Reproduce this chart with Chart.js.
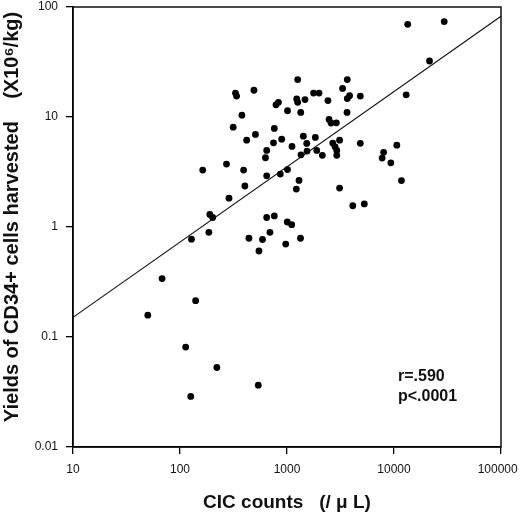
<!DOCTYPE html>
<html>
<head>
<meta charset="utf-8">
<title>CIC counts vs CD34+ yields</title>
<script src="https://cdn.jsdelivr.net/npm/chart.js@4.4.1/dist/chart.umd.min.js"></script>
<style>
  html, body { margin: 0; padding: 0; background: #fff; }
  #wrap { position: relative; width: 520px; height: 515px; }
</style>
</head>
<body>
<div id="wrap"><canvas id="cic-chart"></canvas></div>
<script>
const FONT = '"Liberation Sans", Arial, Helvetica, sans-serif';

// CIC counts (/uL), one per patient
const cicCounts = [
  50, 68, 113, 126, 140, 221, 539, 128, 163, 186,
  190, 202, 272, 287, 314, 330, 338, 379, 393, 404,
  420, 441, 491, 507, 547, 590, 629, 646, 646, 646,
  693, 748, 761, 761, 789, 832, 866, 892, 972, 1006,
  1107, 1011, 1011, 1114, 1222, 1259, 1232, 1259, 1295, 1337,
  1344, 1352, 1421, 1473, 1529, 1539, 1771, 1993, 1840, 1897,
  2140, 2414, 2472, 2581, 2893, 2677, 3100, 2814, 2918, 2918,
  3100, 3307, 3659, 3659, 3846, 3640, 4842, 4842, 4120, 5277,
  8000, 7745, 9343, 10630, 11740, 13000, 21470, 13430, 29450,
];

// CD34+ cells harvested (x10^6/kg), same order
const cd34Yields = [
  0.158, 0.34, 0.081, 0.0288, 0.214, 0.0528, 0.0365, 0.775, 3.29, 0.895,
  1.30, 1.22, 3.73, 1.83, 8.09, 16.5, 15.5, 10.4, 3.29, 2.36,
  6.16, 0.79, 17.5, 6.94, 0.605, 0.77, 4.26, 4.97, 2.92, 1.22,
  0.895, 5.82, 7.87, 1.26, 12.9, 13.6, 3.03, 6.29, 0.70, 1.11,
  1.05, 11.4, 3.33, 5.40, 2.21, 21.9, 14.6, 13.6, 2.65, 0.79,
  11.0, 4.53, 6.70, 14.4, 5.75, 4.90, 16.5, 16.5, 6.52, 4.97,
  4.48, 14.1, 9.5, 8.8, 8.85, 5.79, 6.16, 5.36, 4.97, 4.48,
  2.26, 18.2, 21.9, 14.7, 15.6, 11.0, 15.5, 5.76, 1.56, 1.62,
  4.77, 4.23, 3.83, 5.55, 2.64, 15.9, 32.3, 69.6, 73.7,
];

// regression line end points
const fitX = [10, 100000];
const fitY = [0.151, 82.4];

const xTicks = [10, 100, 1000, 10000, 100000];
// last label is nudged left in the original, trailing spaces do the same
const xTickLabels = ['10', '100', '1000', '10000', '100000  '];
const yTicks = [0.01, 0.1, 1, 10, 100];
const yTickLabels = ['0.01', '0.1', '1', '10', '100'];

const statLines = ['r=.590', 'p<.0001'];
const xTitle = 'CIC counts   (/ \u03bc L)';
const yTitle = 'Yields of CD34+ cells harvested    (X10\u2076/kg)';

const points = cicCounts.map((x, i) => ({ x, y: cd34Yields[i] }));
const fitLine = fitX.map((x, i) => ({ x, y: fitY[i] }));

// box round the plot, rotated y title and the r / p note
const extrasPlugin = {
  id: 'extras',
  afterDraw(chart) {
    const { ctx, chartArea: a } = chart;
    ctx.save();
    ctx.strokeStyle = '#000';
    ctx.lineWidth = 1.4;
    ctx.strokeRect(a.left, a.top, a.right - a.left, a.bottom - a.top);

    ctx.fillStyle = '#111';
    ctx.font = 'bold 16px ' + FONT;
    ctx.textAlign = 'left';
    ctx.textBaseline = 'middle';
    statLines.forEach((t, i) => {
      ctx.fillText(t, a.left + 325, a.top + 370 + i * 20);
    });

    ctx.translate(18, 217);
    ctx.rotate(-Math.PI / 2);
    ctx.font = 'bold 20px ' + FONT;
    ctx.textAlign = 'center';
    ctx.textBaseline = 'alphabetic';
    ctx.fillText(yTitle, 0, 0);
    ctx.restore();
  },
};

Chart.defaults.font.family = FONT;

new Chart(document.getElementById('cic-chart'), {
  type: 'scatter',
  data: {
    datasets: [
      {
        label: 'patients',
        data: points,
        backgroundColor: '#000',
        borderWidth: 0,
        pointRadius: 3.4,
      },
      {
        label: 'fit',
        data: fitLine,
        showLine: true,
        borderColor: '#111',
        borderWidth: 1.1,
        pointRadius: 0,
        fill: false,
      },
    ],
  },
  options: {
    responsive: true,
    maintainAspectRatio: false,
    animation: false,
    layout: { padding: { top: 7, right: 19, bottom: 0, left: 0 } },
    plugins: {
      legend: { display: false },
      tooltip: { enabled: false },
    },
    scales: {
      x: {
        type: 'logarithmic',
        min: 10,
        max: 100000,
        afterBuildTicks: (s) => { s.ticks = xTicks.map((v) => ({ value: v })); },
        afterFit: (s) => {
          s.height = 68;
          s.paddingLeft = 0;
          s.paddingRight = 19;
        },
        grid: { drawOnChartArea: false, color: '#000', lineWidth: 1.3, tickLength: 7 },
        border: { display: true, color: '#000', width: 1.4 },
        ticks: {
          autoSkip: false,
          maxRotation: 0,
          padding: 8,
          color: '#111',
          font: { size: 12 },
          callback: (v) => xTickLabels[xTicks.indexOf(v)],
        },
        title: {
          display: true,
          text: xTitle,
          color: '#111',
          font: { size: 19, weight: 'bold' },
          padding: { top: 0, bottom: 1 },
        },
      },
      y: {
        type: 'logarithmic',
        min: 0.01,
        max: 100,
        afterBuildTicks: (s) => { s.ticks = yTicks.map((v) => ({ value: v })); },
        afterFit: (s) => {
          s.width = 73;
          s.paddingTop = 7;
          s.paddingBottom = 0;
        },
        grid: { drawOnChartArea: false, color: '#000', lineWidth: 1.3, tickLength: 7 },
        border: { display: true, color: '#000', width: 1.4 },
        ticks: {
          autoSkip: false,
          padding: 8,
          color: '#111',
          font: { size: 12 },
          callback: (v) => yTickLabels[yTicks.indexOf(v)],
        },
      },
    },
  },
  plugins: [extrasPlugin],
});
</script>
</body>
</html>
